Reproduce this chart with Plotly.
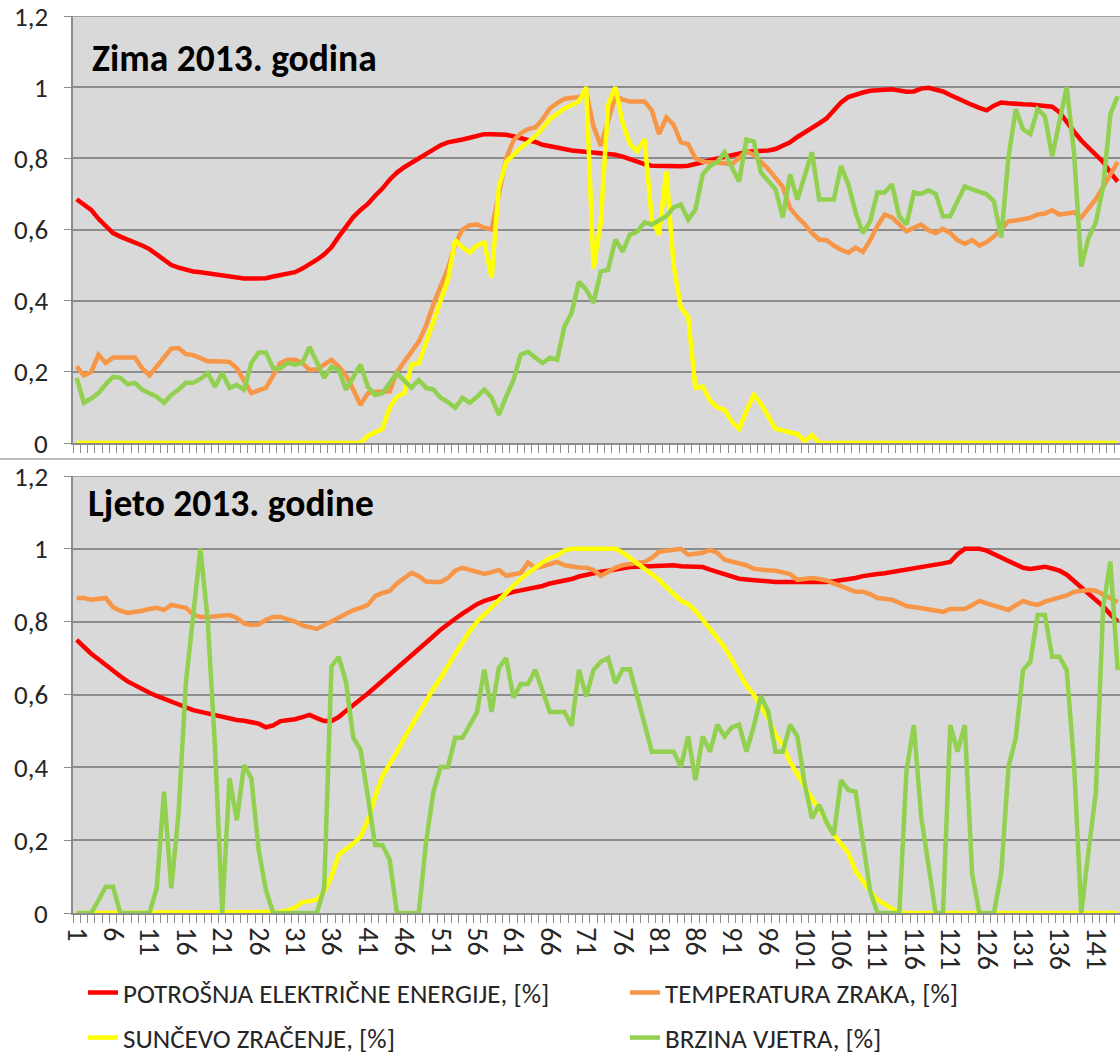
import plotly.graph_objects as go

W, H = 1120, 1055

# ---------------- DATA ----------------
x_cat = list(range(1, 145))
x_tick_vals = list(range(1, 145, 5))
x_tick_text = [str(v) for v in x_tick_vals]
y_tick_vals = [0, 0.2, 0.4, 0.6, 0.8, 1.0, 1.2]
y_tick_text = ["0", "0,2", "0,4", "0,6", "0,8", "1", "1,2"]

series_names = [
    "POTROŠNJA ELEKTRIČNE ENERGIJE, [%]",
    "TEMPERATURA ZRAKA, [%]",
    "SUNČEVO ZRAČENJE, [%]",
    "BRZINA VJETRA, [%]",
]
title_top = "Zima 2013. godina"
title_bottom = "Ljeto 2013. godine"

# Winter (Zima)
zima_potrosnja = [
    0.685, 0.67, 0.655, 0.63, 0.61, 0.59, 0.58, 0.572, 0.565, 0.555,
    0.545, 0.53, 0.515, 0.50, 0.493, 0.487, 0.482, 0.48, 0.477, 0.475,
    0.47, 0.467, 0.463, 0.462, 0.462, 0.462, 0.463, 0.468, 0.472, 0.475,
    0.48, 0.49, 0.502, 0.515, 0.53, 0.55, 0.58, 0.605, 0.635, 0.655,
    0.672, 0.695, 0.715, 0.74, 0.76, 0.775, 0.787, 0.80, 0.812, 0.825,
    0.837, 0.845, 0.848, 0.853, 0.858, 0.863, 0.868, 0.868, 0.868, 0.866,
    0.862, 0.857, 0.852, 0.846, 0.838, 0.833, 0.83, 0.826, 0.822, 0.82,
    0.818, 0.817, 0.815, 0.813, 0.81, 0.805, 0.797, 0.79, 0.784, 0.779,
    0.778, 0.778, 0.778, 0.778, 0.779, 0.783, 0.789, 0.795, 0.80, 0.805,
    0.81, 0.815, 0.818, 0.82, 0.82, 0.822, 0.826, 0.834, 0.845, 0.86,
    0.872, 0.885, 0.898, 0.912, 0.935, 0.957, 0.972, 0.98, 0.985, 0.99,
    0.99, 0.993, 0.994, 0.99, 0.987, 0.988, 0.996, 0.998, 0.993, 0.988,
    0.978, 0.968, 0.958, 0.95, 0.942, 0.935, 0.948, 0.957, 0.955, 0.952,
    0.952, 0.951, 0.95, 0.948, 0.945, 0.93, 0.90, 0.875, 0.85, 0.83,
    0.81, 0.79, 0.76, 0.735,
]
zima_temperatura = [
    0.215, 0.19, 0.20, 0.248, 0.225, 0.24, 0.24, 0.24, 0.24, 0.21,
    0.19, 0.215, 0.24, 0.265, 0.267, 0.25, 0.247, 0.24, 0.23, 0.23,
    0.23, 0.228, 0.21, 0.175, 0.14, 0.148, 0.155, 0.19, 0.225, 0.234,
    0.234, 0.225, 0.205, 0.207, 0.22, 0.234, 0.215, 0.19, 0.15, 0.107,
    0.14, 0.144, 0.144, 0.145, 0.2, 0.23, 0.26, 0.285, 0.33, 0.39,
    0.44, 0.49, 0.56, 0.60, 0.612, 0.614, 0.605, 0.60, 0.70, 0.80,
    0.85, 0.87, 0.882, 0.887, 0.91, 0.94, 0.955, 0.967, 0.97, 0.972,
    0.985, 0.89, 0.835, 0.9, 0.975, 0.965, 0.96, 0.96, 0.96, 0.935,
    0.868, 0.915, 0.895, 0.845, 0.84, 0.80, 0.79, 0.789, 0.789, 0.786,
    0.783, 0.8, 0.82, 0.81, 0.79, 0.77, 0.745, 0.72, 0.66, 0.635,
    0.615, 0.59, 0.572, 0.57, 0.555, 0.543, 0.535, 0.549, 0.537, 0.57,
    0.61, 0.642, 0.634, 0.615, 0.595, 0.605, 0.614, 0.598, 0.59, 0.602,
    0.59, 0.57, 0.56, 0.57, 0.555, 0.565, 0.58, 0.60, 0.623, 0.625,
    0.628, 0.633, 0.642, 0.645, 0.654, 0.642, 0.645, 0.648, 0.634, 0.66,
    0.685, 0.72, 0.755, 0.79,
]
zima_zracenje = [0.0] * 40 + [
    0.02, 0.03, 0.04, 0.10, 0.13, 0.14, 0.22, 0.225, 0.28, 0.34,
    0.40, 0.46, 0.57, 0.55, 0.535, 0.555, 0.563, 0.465, 0.72, 0.79,
    0.81, 0.83, 0.845, 0.862, 0.885, 0.91, 0.925, 0.94, 0.95, 0.96,
    1.0, 0.49, 0.62, 0.95, 1.0, 0.9, 0.84, 0.82, 0.853, 0.63,
    0.585, 0.763, 0.50, 0.38, 0.355, 0.155, 0.158, 0.12, 0.10, 0.093,
    0.06, 0.04, 0.09, 0.135, 0.11, 0.075, 0.04, 0.035, 0.03, 0.025,
    0.005, 0.022,
] + [0.0] * 42
zima_vjetar = [
    0.183, 0.113, 0.125, 0.14, 0.165, 0.186, 0.183, 0.165, 0.169, 0.15,
    0.14, 0.13, 0.113, 0.135, 0.15, 0.169, 0.169, 0.18, 0.197, 0.158,
    0.197, 0.155, 0.163, 0.15, 0.225, 0.254, 0.254, 0.21, 0.21, 0.225,
    0.22, 0.225, 0.27, 0.225, 0.183, 0.214, 0.205, 0.15, 0.186, 0.22,
    0.158, 0.135, 0.14, 0.17, 0.197, 0.175, 0.155, 0.177, 0.155, 0.15,
    0.127, 0.115, 0.099, 0.127, 0.113, 0.13, 0.15, 0.127, 0.079, 0.13,
    0.177, 0.248, 0.256, 0.24, 0.225, 0.24, 0.234, 0.327, 0.366, 0.453,
    0.431, 0.394, 0.482, 0.487, 0.572, 0.538, 0.586, 0.594, 0.62, 0.614,
    0.625, 0.637, 0.662, 0.67, 0.628, 0.656, 0.755, 0.778, 0.79, 0.817,
    0.775, 0.735, 0.853, 0.848, 0.76, 0.735, 0.713, 0.634, 0.755, 0.684,
    0.75, 0.817, 0.684, 0.684, 0.684, 0.778, 0.727, 0.648, 0.59, 0.623,
    0.704, 0.704, 0.727, 0.637, 0.614, 0.704, 0.70, 0.71, 0.70, 0.637,
    0.637, 0.68, 0.721, 0.713, 0.707, 0.699, 0.679, 0.577, 0.803, 0.938,
    0.882, 0.868, 0.938, 0.918, 0.806, 0.9, 1.0, 0.817, 0.496, 0.577,
    0.62, 0.72, 0.924, 0.975,
]

# Summer (Ljeto)
ljeto_potrosnja = [
    0.75, 0.73, 0.712, 0.697, 0.68, 0.665, 0.65, 0.636, 0.625, 0.617,
    0.605, 0.596, 0.589, 0.58, 0.572, 0.565, 0.557, 0.552, 0.549, 0.543,
    0.537, 0.532, 0.53, 0.528, 0.525, 0.52, 0.51, 0.515, 0.527, 0.528,
    0.532, 0.538, 0.544, 0.535, 0.527, 0.527, 0.538, 0.555, 0.57, 0.585,
    0.603, 0.62, 0.637, 0.655, 0.675, 0.69, 0.705, 0.722, 0.74, 0.76,
    0.778, 0.795, 0.808, 0.822, 0.835, 0.848, 0.857, 0.864, 0.87, 0.876,
    0.882, 0.886, 0.889, 0.892, 0.898, 0.905, 0.908, 0.912, 0.917, 0.924,
    0.929, 0.933, 0.937, 0.94, 0.944, 0.947, 0.95, 0.951, 0.952, 0.953,
    0.955, 0.956, 0.955, 0.952, 0.951, 0.951, 0.95, 0.943, 0.936, 0.93,
    0.923, 0.918, 0.916, 0.914, 0.91, 0.909, 0.909, 0.909, 0.909, 0.909,
    0.908, 0.907, 0.907, 0.909, 0.911, 0.913, 0.917, 0.92, 0.925, 0.929,
    0.931, 0.933, 0.936, 0.94, 0.942, 0.945, 0.948, 0.952, 0.957, 0.96,
    0.964, 0.985, 1.0, 1.0, 1.0, 0.995, 0.985, 0.975, 0.965, 0.955,
    0.948, 0.945, 0.947, 0.951, 0.946, 0.94, 0.929, 0.912, 0.895, 0.878,
    0.862, 0.842, 0.82, 0.80,
]
ljeto_temperatura = [
    0.865, 0.865, 0.86, 0.862, 0.865, 0.84, 0.83, 0.824, 0.826, 0.83,
    0.835, 0.838, 0.832, 0.846, 0.842, 0.838, 0.82, 0.813, 0.813, 0.815,
    0.818, 0.818, 0.81, 0.795, 0.791, 0.792, 0.805, 0.813, 0.813, 0.808,
    0.80, 0.79, 0.786, 0.78, 0.79, 0.80, 0.813, 0.822, 0.832, 0.838,
    0.846, 0.87, 0.879, 0.884, 0.905, 0.92, 0.934, 0.925, 0.91, 0.909,
    0.909, 0.92, 0.94, 0.948, 0.942, 0.936, 0.931, 0.936, 0.942, 0.926,
    0.93, 0.934, 0.962, 0.948, 0.952, 0.958, 0.964, 0.955, 0.951, 0.949,
    0.948, 0.942, 0.926, 0.938, 0.948, 0.955, 0.959, 0.962, 0.964, 0.975,
    0.992, 0.995, 0.997, 1.0, 0.984, 0.987, 0.989, 0.997, 0.989, 0.97,
    0.965, 0.962, 0.955, 0.945, 0.942, 0.941, 0.94, 0.935, 0.931, 0.915,
    0.918, 0.92, 0.917, 0.913, 0.905, 0.898, 0.888, 0.882, 0.882, 0.876,
    0.865, 0.862, 0.86, 0.852, 0.843, 0.84, 0.837, 0.835, 0.83, 0.827,
    0.835, 0.835, 0.835, 0.845, 0.857, 0.85, 0.845, 0.838, 0.832, 0.845,
    0.857, 0.85, 0.846, 0.855, 0.86, 0.865, 0.872, 0.882, 0.885, 0.887,
    0.885, 0.875, 0.862, 0.854,
]
ljeto_zracenje = [0.0] * 28 + [
    0.003, 0.008,
    0.015, 0.03, 0.033, 0.036, 0.06, 0.1, 0.16, 0.176, 0.19, 0.21,
    0.255, 0.32, 0.375, 0.41, 0.442, 0.48, 0.515, 0.55, 0.583, 0.616,
    0.645, 0.68, 0.712, 0.742, 0.775, 0.8, 0.82, 0.84, 0.86, 0.88,
    0.9, 0.918, 0.933, 0.95, 0.963, 0.975, 0.982, 0.995, 1.0, 1.0,
    1.0, 1.0, 1.0, 1.0, 1.0, 0.99, 0.975, 0.962, 0.945, 0.93,
    0.915, 0.895, 0.875, 0.858, 0.848, 0.83, 0.805, 0.78, 0.757, 0.73,
    0.695, 0.66, 0.625, 0.6, 0.57, 0.535, 0.49, 0.46, 0.415, 0.38,
    0.35, 0.315, 0.285, 0.25, 0.215, 0.19, 0.165, 0.115, 0.085, 0.06,
    0.036, 0.025, 0.012,
] + [0.0] * 31
ljeto_vjetar = [
    0, 0, 0, 0.035, 0.072, 0.072, 0, 0, 0, 0,
    0, 0.068, 0.333, 0.068, 0.274, 0.63, 0.805, 1.0, 0.805, 0.457,
    0, 0.37, 0.255, 0.406, 0.37, 0.173, 0.063, 0, 0, 0,
    0, 0, 0, 0, 0.068, 0.677, 0.703, 0.635, 0.481, 0.448,
    0.32, 0.187, 0.187, 0.146, 0, 0, 0, 0, 0.195, 0.332,
    0.401, 0.401, 0.481, 0.481, 0.516, 0.552, 0.668, 0.552, 0.673, 0.70,
    0.591, 0.629, 0.629, 0.668, 0.61, 0.552, 0.552, 0.552, 0.514, 0.668,
    0.595, 0.667, 0.69, 0.70, 0.631, 0.669, 0.669, 0.6, 0.52, 0.443,
    0.443, 0.443, 0.443, 0.402, 0.485, 0.365, 0.485, 0.443, 0.517, 0.485,
    0.51, 0.517, 0.443, 0.512, 0.595, 0.553, 0.443, 0.443, 0.517, 0.485,
    0.356, 0.26, 0.297, 0.25, 0.214, 0.365, 0.338, 0.333, 0.2, 0.06,
    0, 0, 0, 0, 0.393, 0.516, 0.265, 0.13, 0, 0,
    0.516, 0.443, 0.516, 0.109, 0, 0, 0, 0.109, 0.402, 0.48,
    0.667, 0.69, 0.818, 0.818, 0.704, 0.704, 0.667, 0.411, 0, 0.17,
    0.33, 0.84, 0.965, 0.667,
]

# ---------------- STYLE ----------------
colors = ["#FF0000", "#F79646", "#FFFF00", "#92D050"]
FONT = "Carlito, Calibri, Lato, sans-serif"
GRID = "#8C8C8C"
BG = "#D9D9D9"
TXT = "#262626"

def px_y(p):
    return 1 - p / H

x_dom = [73 / W, 1.0]
x_range = [0.5, 0.5 + (W - 73) / 7.28]

fig = go.Figure()

top = [zima_potrosnja, zima_temperatura, zima_zracenje, zima_vjetar]
bot = [ljeto_potrosnja, ljeto_temperatura, ljeto_zracenje, ljeto_vjetar]
legs = ["legend", "legend2", "legend3", "legend4"]
leg_pos = [(83, 993), (625, 993), (83, 1038), (625, 1038)]

for k in range(4):
    fig.add_trace(go.Scatter(
        x=x_cat, y=top[k], mode="lines", name=series_names[k],
        line=dict(color=colors[k], width=4.5),
        xaxis="x", yaxis="y", legend=legs[k], showlegend=True,
        hoverinfo="skip"))
for k in range(4):
    fig.add_trace(go.Scatter(
        x=x_cat, y=bot[k], mode="lines", name=series_names[k],
        line=dict(color=colors[k], width=4.5),
        xaxis="x2", yaxis="y2", showlegend=False, hoverinfo="skip"))

common_x = dict(
    range=x_range, domain=x_dom, showgrid=False, zeroline=False,
    showline=True, linecolor=GRID, linewidth=1.5, automargin=False,
    tickmode="array", tickvals=x_tick_vals, ticks="",
    minor=dict(tickmode="linear", tick0=0.5, dtick=1, ticks="outside",
               ticklen=8, tickcolor=GRID, tickwidth=1.3),
    ticklabeloverflow="allow", fixedrange=True,
)
common_y = dict(
    range=[0, 1.2], tickmode="array", tickvals=y_tick_vals, ticktext=y_tick_text,
    showgrid=True, gridcolor=GRID, gridwidth=1.6, zeroline=False,
    showline=True, linecolor=GRID, linewidth=1.5, automargin=False,
    ticks="outside", ticklen=7, tickcolor=GRID, tickwidth=1.3,
    showticklabels=False, fixedrange=True,
)

legend_layout = {}
for k in range(4):
    legend_layout[legs[k]] = dict(
        orientation="h", x=leg_pos[k][0] / W, xanchor="left",
        y=px_y(leg_pos[k][1]), yanchor="middle",
        font=dict(family=FONT, size=27, color=TXT),
        bgcolor="rgba(0,0,0,0)", itemwidth=30)

# y-axis value labels (placed right-aligned left of the axis)
annotations = []
for yref in ["y", "y2"]:
    for v, t in zip(y_tick_vals, y_tick_text):
        annotations.append(dict(
            text=t, xref="paper", yref=yref, x=50 / W, y=v,
            xanchor="right", yanchor="middle", showarrow=False,
            font=dict(family=FONT, size=27, color=TXT)))
annotations += [
    dict(text="<b>" + title_top + "</b>", xref="paper", yref="paper",
         x=90 / W, y=px_y(58), xanchor="left", yanchor="middle",
         showarrow=False, font=dict(family=FONT, size=37.5, color="black")),
    dict(text="<b>" + title_bottom + "</b>", xref="paper", yref="paper",
         x=86 / W, y=px_y(503), xanchor="left", yanchor="middle",
         showarrow=False, font=dict(family=FONT, size=37.5, color="black")),
]

fig.update_layout(
    width=W, height=H,
    margin=dict(l=0, r=0, t=0, b=0, autoexpand=False),
    paper_bgcolor="white", plot_bgcolor=BG,
    font=dict(family=FONT, color=TXT),
    xaxis=dict(**common_x, anchor="y", showticklabels=False),
    yaxis=dict(**common_y, domain=[px_y(443), px_y(16)], anchor="x"),
    xaxis2=dict(**common_x, anchor="y2", ticktext=x_tick_text,
                showticklabels=True, tickangle=90, ticklabelstandoff=7,
                tickfont=dict(family=FONT, size=28, color=TXT)),
    yaxis2=dict(**common_y, domain=[px_y(913), px_y(476)], anchor="x2"),
    annotations=annotations,
    shapes=[
        dict(type="line", xref="paper", yref="paper", x0=0, x1=1,
             y0=px_y(459), y1=px_y(459), line=dict(color="#A6A6A6", width=1.5)),
        dict(type="line", xref="x domain", yref="y", x0=0, x1=1,
             y0=1.2, y1=1.2, line=dict(color=GRID, width=1.6), layer="below"),
        dict(type="line", xref="x2 domain", yref="y2", x0=0, x1=1,
             y0=1.2, y1=1.2, line=dict(color=GRID, width=1.6), layer="below"),
    ],
    **legend_layout,
)

fig.write_html("out.html", config={"displayModeBar": False},
               post_script="document.body.style.margin='0px';")
